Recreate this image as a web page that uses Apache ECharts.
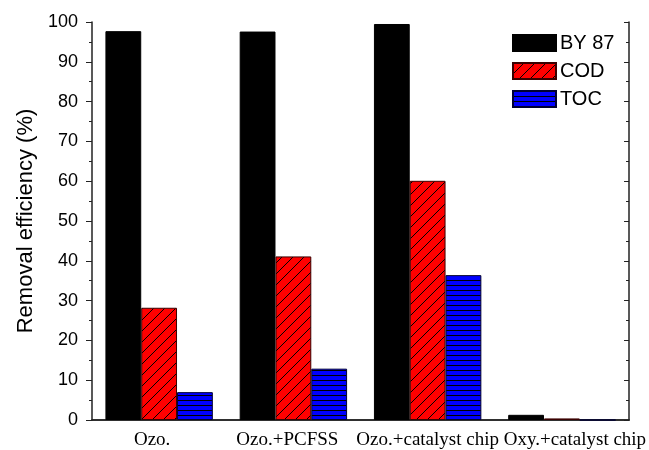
<!DOCTYPE html>
<html>
<head>
<meta charset="utf-8">
<script src="https://cdn.jsdelivr.net/npm/echarts@6/dist/echarts.min.js"></script>
<style>html,body{margin:0;padding:0;background:#fff}#c{width:649px;height:450px}</style>
</head>
<body>
<div id="c"></div>
<script>
var categories = ['Ozo.', 'Ozo.+PCFSS', 'Ozo.+catalyst chip', 'Oxy.+catalyst chip'];
var by87 = [97.7, 97.6, 99.5, 1.3];
var cod = [28.2, 41.1, 60.1, 0.4];
var toc = [7.0, 12.9, 36.4, 0];
var yTicks = [0, 10, 20, 30, 40, 50, 60, 70, 80, 90, 100];

// per-label horizontal nudges (style only)
var labelPad = [[0, 14, 0, 0], [0, 12, 0, 0], [0, 0, 0, 0], [0, 0, 0, 26]];

function diagPattern() {
  var s = 11, c = document.createElement('canvas');
  c.width = s; c.height = s;
  var g = c.getContext('2d');
  g.fillStyle = '#ff0000'; g.fillRect(0, 0, s, s);
  g.strokeStyle = '#000'; g.lineWidth = 1;
  g.beginPath();
  g.moveTo(-1, s + 1); g.lineTo(s + 1, -1);
  g.moveTo(-1, 1); g.lineTo(1, -1);
  g.moveTo(s - 1, s + 1); g.lineTo(s + 1, s - 1);
  g.stroke();
  return c;
}
function horizPattern() {
  var c = document.createElement('canvas');
  c.width = 4; c.height = 5;
  var g = c.getContext('2d');
  g.fillStyle = '#0000ff'; g.fillRect(0, 0, 4, 5);
  g.fillStyle = '#000';
  g.fillRect(0, 0, 4, 1);
  return c;
}

var axisCol = '#222';
var chart = echarts.init(document.getElementById('c'));
chart.setOption({
  animation: false,
  backgroundColor: '#fff',
  grid: { left: 92, right: 19, top: 22, bottom: 30 },
  legend: {
    orient: 'vertical', left: 512, top: 33, padding: 0,
    itemWidth: 43, itemHeight: 16, itemGap: 8,
    icon: 'rect',
    textStyle: { fontFamily: 'Liberation Sans', fontSize: 20, lineHeight: 16, color: '#000', padding: [0, 0, 0, -1] },
    data: ['BY 87', 'COD', 'TOC']
  },
  xAxis: [{
    type: 'category', position: 'bottom',
    data: categories.map(function (c, i) { return { value: c, textStyle: { padding: labelPad[i] } }; }),
    axisLine: { lineStyle: { color: axisCol, width: 1.5 } },
    axisTick: { inside: true, length: 4, lineStyle: { color: axisCol } },
    axisLabel: { fontFamily: 'Liberation Serif', fontSize: 19, color: '#000', margin: 11, interval: 0 }
  }, {
    type: 'category', data: ['', '', '', '', '', '', '', ''], position: 'top',
    axisLine: { lineStyle: { color: axisCol, width: 1.5 } },
    axisTick: { inside: true, length: 4, lineStyle: { color: axisCol } },
    axisLabel: { show: false }
  }],
  yAxis: [{
    type: 'value', min: 0, max: 100, interval: 10, position: 'left',
    name: 'Removal efficiency (%)', nameLocation: 'middle', nameGap: 52,
    nameTextStyle: { fontFamily: 'Liberation Sans', fontSize: 22, color: '#000' },
    axisLine: { show: true, lineStyle: { color: axisCol, width: 1.5 } },
    axisTick: { show: true, inside: false, length: 6, lineStyle: { color: axisCol } },
    minorTick: { show: true, splitNumber: 2, length: 3, lineStyle: { color: axisCol } },
    splitLine: { show: false },
    axisLabel: { fontFamily: 'Liberation Sans', fontSize: 18, color: '#000', margin: 14,
      formatter: function (v) { return yTicks.indexOf(v) >= 0 ? String(v) : ''; } }
  }, {
    type: 'value', min: 0, max: 100, interval: 10, position: 'right',
    axisLine: { show: true, lineStyle: { color: axisCol, width: 1.5 } },
    axisTick: { show: true, inside: true, length: 5, lineStyle: { color: axisCol } },
    minorTick: { show: true, splitNumber: 2, length: 3, lineStyle: { color: axisCol } },
    splitLine: { show: false },
    axisLabel: { show: false }
  }],
  series: [{
    name: 'BY 87', type: 'bar', data: by87, barGap: '0%', barCategoryGap: '20%',
    itemStyle: { color: '#000', borderColor: '#000', borderWidth: 1 }
  }, {
    name: 'COD', type: 'bar', data: cod, barGap: '0%', barCategoryGap: '20%',
    itemStyle: { color: { image: diagPattern(), repeat: 'repeat' }, borderColor: '#3a0000', borderWidth: 1 }
  }, {
    name: 'TOC', type: 'bar', data: toc, barGap: '0%', barCategoryGap: '20%',
    itemStyle: { color: { image: horizPattern(), repeat: 'repeat' }, borderColor: '#000033', borderWidth: 1 }
  }]
});
</script>
</body>
</html>
